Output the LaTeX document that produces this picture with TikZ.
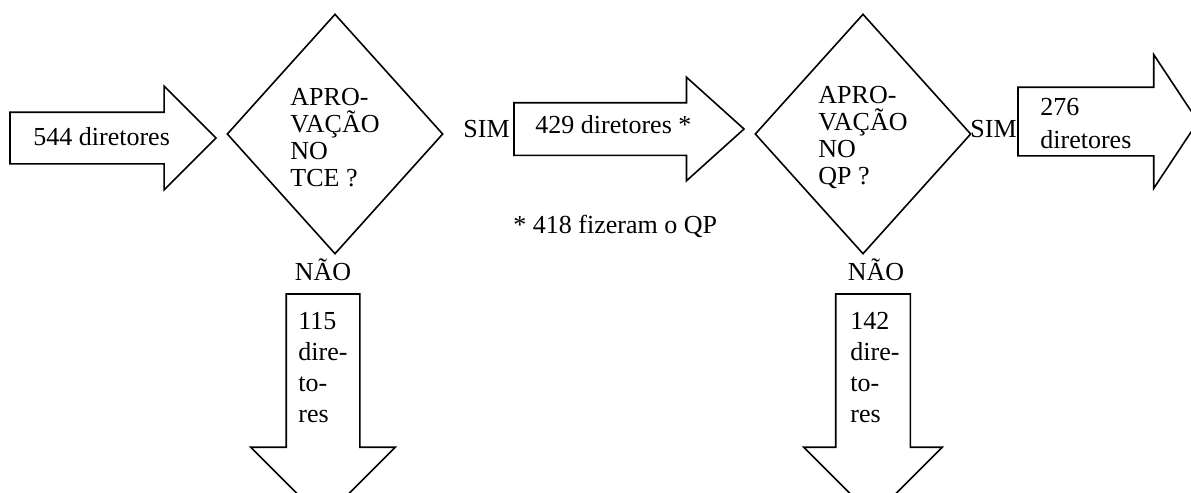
\documentclass[tikz,border=0pt]{standalone}
\usepackage{fontspec}
\setmainfont{Liberation Serif}
\usetikzlibrary{shapes.geometric,shapes.arrows,positioning}

\begin{document}
\begin{tikzpicture}[x=0.5pt, y=-0.5pt,
  decision/.style={draw, shape=diamond, line width=0.8pt, inner sep=0pt, minimum width=108pt, minimum height=120pt, text height=53pt, align=left, font=\fontsize{13pt}{13.5pt}\selectfont},
  flow/.style={draw, single arrow, line width=0.8pt, outer sep=0pt, anchor=tail},
  count/.style={anchor=base west, inner sep=0pt, align=left, font=\fontsize{13pt}{#1}\selectfont},
  count/.default=15.5pt,
  answer/.style={anchor=base west, inner sep=0pt, font=\fontsize{13pt}{15pt}\selectfont}
]
\useasboundingbox (0,0) rectangle (1191,493);
\clip (0,0) rectangle (1191,493);

% decisions
\node[decision] (tce) at (335,134) {APRO-\\VAÇÃO\\NO\\TCE ?};
\node[decision] (qp) at (863,134) {APRO-\\VAÇÃO\\NO\\QP ?};

% block arrows
\node[flow, inner sep=12.5pt, single arrow head extend=13pt, minimum height=103pt] (in544) at (10,138) {};
\node[flow, inner sep=12.75pt, single arrow head extend=12.75pt, single arrow tip angle=84, minimum height=115pt] (sim429) at (514,129) {};
\node[flow, inner sep=16.75pt, single arrow head extend=16.25pt, single arrow tip angle=113, minimum height=90pt] (sim276) at (1018,121.5) {};
\node[flow, shape border rotate=270, inner sep=18pt, single arrow head extend=17.75pt, minimum height=112.75pt] (nao115) at (323,294) {};
\node[flow, shape border rotate=270, inner sep=18.25pt, single arrow head extend=16pt, minimum height=111.25pt] (nao142) at (873,294) {};

% texts (base = last line)
\node[count] (t544) at (33,145) {544 diretores};
\node[count] (t429) at (535,133) {429 diretores *};
\node[count=16.5pt] (t276) at (1040,148) {276\\diretores};
\node[count] (t115) at (298,422) {115\\dire-\\to-\\res};
\node[count] (t142) at (850,422) {142\\dire-\\to-\\res};
\node[count] (obs) at (513,233) {* 418 fizeram o QP};

\node[answer] (sim1) at (463,137) {SIM};
\node[answer] (sim2) at (970,137) {SIM};
\node[answer, anchor=base] (nao1) at (323,280) {NÃO};
\node[answer, anchor=base] (nao2) at (876,280) {NÃO};

\end{tikzpicture}
\end{document}
